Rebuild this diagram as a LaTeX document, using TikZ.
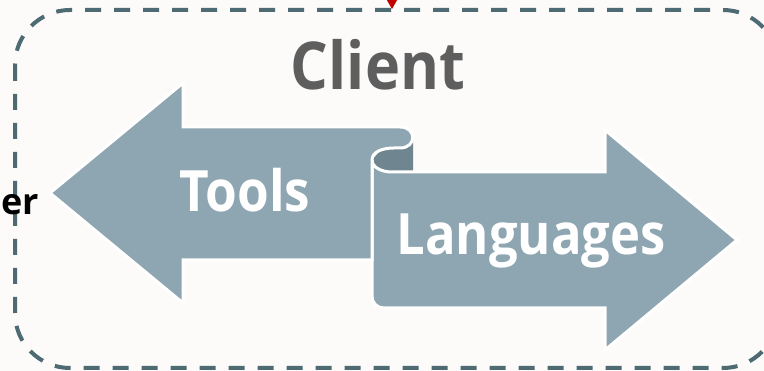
\documentclass[tikz,border=0pt]{standalone}
\usepackage{fontspec}
\setmainfont{Open Sans}
\newfontfamily\labelfont[FakeStretch=0.9]{Open Sans}
\usetikzlibrary{arrows.meta}
\definecolor{bgc}{HTML}{FCFBF9}
\definecolor{lightc}{HTML}{8EA6B1}
\definecolor{darkc}{HTML}{6F858F}
\definecolor{borderc}{HTML}{4E6A72}
\definecolor{clientc}{HTML}{5E5E5E}
\definecolor{redc}{HTML}{C00000}
\tikzset{
  shapefill/.style={fill=lightc, draw=white, line width=3pt, line join=miter},
  bigtext/.style={text=white, font=\labelfont\bfseries\fontsize{57}{60}\selectfont, inner sep=0pt},
  border/.style={draw=borderc, line width=4pt, dash pattern=on 16pt off 13pt, rounded corners=55pt}
}
\begin{document}
\begin{tikzpicture}[x=1pt,y=-1pt]
\useasboundingbox (0,0) rectangle (764,371);
\fill[bgc] (0,0) rectangle (764,371);
% dashed client frame
\draw[border] (15,10) rectangle (778,368);
% red incoming arrow tip
\coordinate (redsrc) at (392,-30);
\coordinate (redtip) at (392,9);
\draw[redc, line width=1.5pt, -{Triangle[length=10pt,width=11pt]}] (redsrc) -- (redtip);
% dark curl underside
\fill[darkc] (372,160) .. controls (372,167) and (381,172) .. (392,172) -- (413,172) -- (413,137) -- (392,137) -- cycle;
% right arrow (Languages)
\path[shapefill] (372,160) .. controls (372,167) and (381,172) .. (392,172) -- (605,172) -- (605,130) -- (737,240) -- (605,350) -- (605,308) -- (384,308) .. controls (377,308) and (372,303) .. (372,296) -- cycle;
% left arrow (Tools)
\path[shapefill] (50,193) -- (183,83) -- (183,127) -- (400,127) .. controls (417,127) and (417,148) .. (400,148) -- (394,148) .. controls (382,148) and (372,152) .. (372,160) -- (372,260) -- (183,260) -- (183,303) -- cycle;
% texts
\node[anchor=base, inner sep=0pt, text=clientc, font=\labelfont\bfseries\fontsize{66}{70}\selectfont] (client) at (378,90) {Client};
\node[bigtext, anchor=base] (tools) at (245,212) {Tools};
\node[bigtext, anchor=base] (lang) at (531,255) {\fontspec[FakeStretch=0.89]{Open Sans}\bfseries Languages};
\node[anchor=base west, inner sep=0pt, text=black, font=\bfseries\fontsize{36}{40}\selectfont] (server) at (1,215) {er};
\end{tikzpicture}
\end{document}
